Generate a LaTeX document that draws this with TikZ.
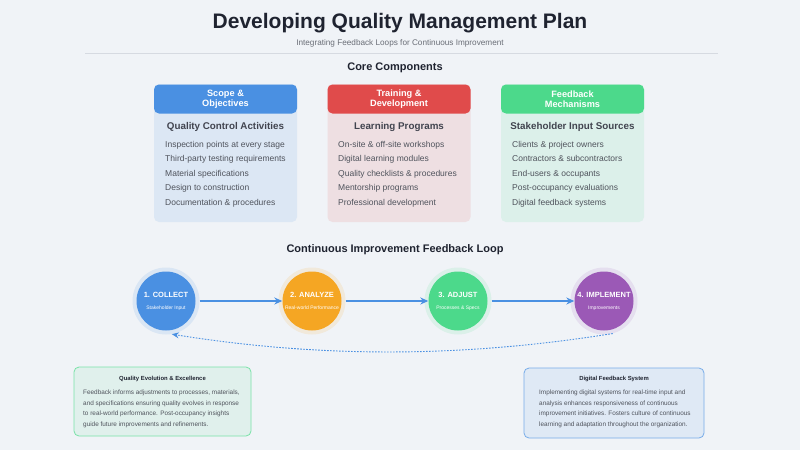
\documentclass[tikz,border=0pt]{standalone}
\usepackage{fontspec}
\setmainfont{Liberation Sans}
\usetikzlibrary{arrows.meta, positioning, calc}
\definecolor{pagebg}{HTML}{F0F3F7}
\definecolor{inkdark}{HTML}{1F2330}
\definecolor{inkgrey}{HTML}{6A6E77}
\definecolor{inkbody}{HTML}{4F535C}
\definecolor{inkrule}{HTML}{D6DAE1}
\definecolor{qblue}{HTML}{4A90E2}
\definecolor{qred}{HTML}{E04B4B}
\definecolor{qgreen}{HTML}{4CD98B}
\definecolor{qorange}{HTML}{F5A623}
\definecolor{qpurple}{HTML}{9B59B6}
\newcommand{\fs}[2]{\fontsize{#1}{#2}\selectfont}
\newcommand{\cardbox}[5]{%
  \node[fill=#3!12!pagebg, rounded corners=5pt, minimum width=143pt,
        minimum height=138pt] (#1) at (#2,153) {};
  \node[fill=#3, rounded corners=5pt, minimum width=143pt, minimum height=29pt,
        text=white, align=center, font=\bfseries\fs{9.2}{9.6}] (#1head) at (#2,99) {#4};
  \node[text=inkdark!85, font=\bfseries\fs{9.8}{11}] (#1title) at (#2,127) {#5};}
\newcommand{\loopstep}[5]{%
  \node[circle, fill=#3!13!pagebg, minimum size=67pt, inner sep=0pt] (#1halo) at (#2,301) {};
  \node[circle, fill=#3, minimum size=59pt, inner sep=0pt, text=white,
        align=center] (#1) at (#2,301) {{\bfseries\fs{7.5}{9}#4}\\[0pt]{\fs{5}{6}#5}};}

\begin{document}
\begin{tikzpicture}[x=1pt, y=-1pt,
    itemlist/.style={anchor=north west, inner sep=0pt, align=left, text=inkbody,
                     font=\fs{8.5}{14.5}},
    notetext/.style={anchor=north west, inner sep=0pt, align=left, text=inkbody,
                     font=\fs{6.4}{10.8}},
    notetitle/.style={text=inkdark, font=\bfseries\fs{5.9}{7}},
    flowarrow/.style={-{Stealth[length=8pt, width=7pt]}, qblue, line width=1.3pt}]
  \fill[pagebg] (0,0) rectangle (800,450);

  \node[text=inkdark, font=\bfseries\fs{21}{25}] (title) at (400,23)
    {Developing Quality Management Plan};
  \node[text=inkgrey, font=\fs{8.2}{9}] (subtitle) at (400,43)
    {Integrating Feedback Loops for Continuous Improvement};
  \draw[inkrule, line width=0.8pt] (85,53) -- (718,53);
  \node[text=inkdark, font=\bfseries\fs{11}{13}] (corehead) at (395,68) {Core Components};

  % core component cards
  \cardbox{scope}{225.5}{qblue}{Scope \&\\Objectives}{Quality Control Activities}
  \cardbox{training}{399}{qred}{Training \&\\Development}{Learning Programs}
  \cardbox{feedback}{572.5}{qgreen}{Feedback\\Mechanisms}{Stakeholder Input Sources}
  \node[itemlist] (scopelist) at (165,141) {Inspection points at every stage\\
    Third-party testing requirements\\Material specifications\\
    Design to construction\\Documentation \& procedures};
  \node[itemlist] (traininglist) at (338,141) {On-site \& off-site workshops\\
    Digital learning modules\\Quality checklists \& procedures\\
    Mentorship programs\\Professional development};
  \node[itemlist] (feedbacklist) at (512,141) {Clients \& project owners\\
    Contractors \& subcontractors\\End-users \& occupants\\
    Post-occupancy evaluations\\Digital feedback systems};

  % feedback loop
  \node[text=inkdark, font=\bfseries\fs{11}{13}] (loophead) at (395,250)
    {Continuous Improvement Feedback Loop};
  \loopstep{collect}{166}{qblue}{1. COLLECT}{Stakeholder Input}
  \loopstep{analyze}{312}{qorange}{2. ANALYZE}{Real-world Performance}
  \loopstep{adjust}{458}{qgreen}{3. ADJUST}{Processes \& Specs}
  \loopstep{implement}{604}{qpurple}{4. IMPLEMENT}{Improvements}
  \draw[flowarrow] (collecthalo) -- (analyze);
  \draw[flowarrow] (analyzehalo) -- (adjust);
  \draw[flowarrow] (adjusthalo) -- (implement);
  \draw[qblue, line width=0.9pt, dash pattern=on 1.6pt off 1.4pt, -{Stealth[length=7pt, width=6pt]}]
    (implementhalo.-75) .. controls +(-150,24) and +(150,24) .. (collecthalo.-80);

  % notes
  \node[draw=qgreen!75, fill=qgreen!10!pagebg, line width=0.8pt, rounded corners=5pt,
        minimum width=177pt, minimum height=69pt] (evolution) at (162.5,401.5) {};
  \node[notetitle] (evolutiontitle) at (162.5,379) {Quality Evolution \& Excellence};
  \node[notetext] (evolutiontext) at (83,389.5)
    {Feedback informs adjustments to processes, materials,\\
     and specifications ensuring quality evolves in response\\
     to real-world performance. Post-occupancy insights\\
     guide future improvements and refinements.};
  \node[draw=qblue!75, fill=qblue!10!pagebg, line width=0.8pt, rounded corners=5pt,
        minimum width=180pt, minimum height=70pt] (digital) at (614,403) {};
  \node[notetitle] (digitaltitle) at (614,379) {Digital Feedback System};
  \node[notetext] (digitaltext) at (539,389.5)
    {Implementing digital systems for real-time input and\\
     analysis enhances responsiveness of continuous\\
     improvement initiatives. Fosters culture of continuous\\
     learning and adaptation throughout the organization.};
\end{tikzpicture}
\end{document}
